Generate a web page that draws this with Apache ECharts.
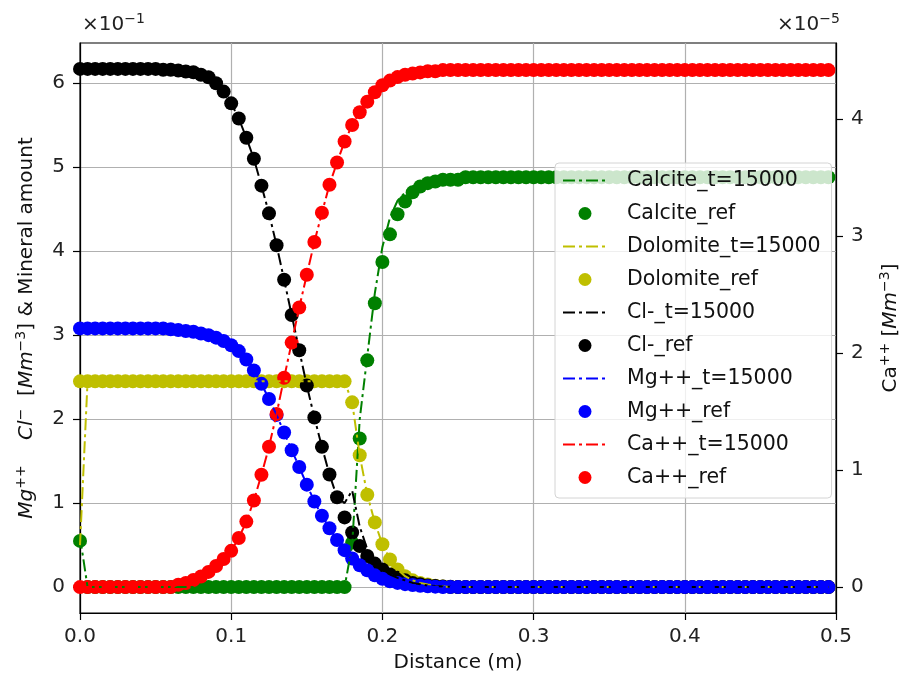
<!DOCTYPE html>
<html>
<head>
<meta charset="utf-8">
<script src="https://cdn.jsdelivr.net/npm/echarts@6/dist/echarts.min.js"></script>
<style>
html,body{margin:0;padding:0;background:#fff;}
#chart{width:909px;height:679px;}
</style>
</head>
<body>
<div id="chart"></div>
<script>
// Distance (m)
const distance = [
 0.000,0.005,0.010,0.015,0.020,0.025,0.030,0.035,0.040,0.045,
 0.050,0.055,0.060,0.065,0.070,0.075,0.080,0.085,0.090,0.095,
 0.100,0.105,0.110,0.115,0.120,0.125,0.130,0.135,0.140,0.145,
 0.150,0.155,0.160,0.165,0.170,0.175,0.180,0.185,0.190,0.195,
 0.200,0.205,0.210,0.215,0.220,0.225,0.230,0.235,0.240,0.245,
 0.250,0.255,0.260,0.265,0.270,0.275,0.280,0.285,0.290,0.295,
 0.300,0.305,0.310,0.315,0.320,0.325,0.330,0.335,0.340,0.345,
 0.350,0.355,0.360,0.365,0.370,0.375,0.380,0.385,0.390,0.395,
 0.400,0.405,0.410,0.415,0.420,0.425,0.430,0.435,0.440,0.445,
 0.450,0.455,0.460,0.465,0.470,0.475,0.480,0.485,0.490,0.495];

// Left axis values (x10^-1)
const calciteModel = [
 0.60,0,0,0,0,0,0,0,0,0,
 0,0,0,0,0,0,0,0,0,0,
 0,0,0,0,0,0,0,0,0,0,
 0,0,0,0,0,0,0.50,2.00,2.75,3.50,
 4.05,4.40,4.60,4.70,4.77,4.81,4.83,4.85,4.85,4.85,
 4.86,4.88,4.88,4.88,4.88,4.88,4.88,4.88,4.88,4.88,
 4.88,4.88,4.88,4.88,4.88,4.88,4.88,4.88,4.88,4.88,
 4.88,4.88,4.88,4.88,4.88,4.88,4.88,4.88,4.88,4.88,
 4.88,4.88,4.88,4.88,4.88,4.88,4.88,4.88,4.88,4.88,
 4.88,4.88,4.88,4.88,4.88,4.88,4.88,4.88,4.88,4.88];
const calciteRef = [
 0.55,0,0,0,0,0,0,0,0,0,
 0,0,0,0,0,0,0,0,0,0,
 0,0,0,0,0,0,0,0,0,0,
 0,0,0,0,0,0,0.53,1.77,2.70,3.38,
 3.87,4.20,4.44,4.59,4.70,4.77,4.81,4.83,4.85,4.85,
 4.85,4.88,4.88,4.88,4.88,4.88,4.88,4.88,4.88,4.88,
 4.88,4.88,4.88,4.88,4.88,4.88,4.88,4.88,4.88,4.88,
 4.88,4.88,4.88,4.88,4.88,4.88,4.88,4.88,4.88,4.88,
 4.88,4.88,4.88,4.88,4.88,4.88,4.88,4.88,4.88,4.88,
 4.88,4.88,4.88,4.88,4.88,4.88,4.88,4.88,4.88,4.88];
const dolomiteModel = [
 0.50,2.45,2.45,2.45,2.45,2.45,2.45,2.45,2.45,2.45,
 2.45,2.45,2.45,2.45,2.45,2.45,2.45,2.45,2.45,2.45,
 2.45,2.45,2.45,2.45,2.45,2.45,2.45,2.45,2.45,2.45,
 2.45,2.45,2.45,2.45,2.45,2.45,2.20,1.57,1.10,0.77,
 0.51,0.33,0.21,0.13,0.08,0.05,0.03,0.015,0.008,0,
 0,0,0,0,0,0,0,0,0,0,
 0,0,0,0,0,0,0,0,0,0,
 0,0,0,0,0,0,0,0,0,0,
 0,0,0,0,0,0,0,0,0,0,
 0,0,0,0,0,0,0,0,0,0];
const dolomiteRef = [
 2.45,2.45,2.45,2.45,2.45,2.45,2.45,2.45,2.45,2.45,
 2.45,2.45,2.45,2.45,2.45,2.45,2.45,2.45,2.45,2.45,
 2.45,2.45,2.45,2.45,2.45,2.45,2.45,2.45,2.45,2.45,
 2.45,2.45,2.45,2.45,2.45,2.45,2.20,1.57,1.10,0.77,
 0.51,0.33,0.21,0.13,0.08,0.05,0.03,0.015,0.008,0,
 0,0,0,0,0,0,0,0,0,0,
 0,0,0,0,0,0,0,0,0,0,
 0,0,0,0,0,0,0,0,0,0,
 0,0,0,0,0,0,0,0,0,0,
 0,0,0,0,0,0,0,0,0,0];
const clModel = [
 6.17,6.17,6.17,6.17,6.17,6.17,6.17,6.17,6.17,6.17,
 6.17,6.16,6.16,6.15,6.14,6.13,6.10,6.07,6.00,5.90,
 5.76,5.58,5.35,5.10,4.78,4.45,4.07,3.66,3.24,2.82,
 2.40,2.02,1.67,1.34,1.07,1.00,1.15,0.72,0.45,0.30,
 0.21,0.15,0.11,0.08,0.05,0.035,0.02,0.013,0.008,0.004,
 0,0,0,0,0,0,0,0,0,0,
 0,0,0,0,0,0,0,0,0,0,
 0,0,0,0,0,0,0,0,0,0,
 0,0,0,0,0,0,0,0,0,0,
 0,0,0,0,0,0,0,0,0,0];
const clRef = [
 6.17,6.17,6.17,6.17,6.17,6.17,6.17,6.17,6.17,6.17,
 6.17,6.16,6.16,6.15,6.14,6.13,6.10,6.07,6.00,5.90,
 5.76,5.58,5.35,5.10,4.78,4.45,4.07,3.66,3.24,2.82,
 2.40,2.02,1.67,1.34,1.07,0.83,0.65,0.49,0.37,0.28,
 0.21,0.15,0.11,0.08,0.05,0.035,0.02,0.013,0.008,0.004,
 0,0,0,0,0,0,0,0,0,0,
 0,0,0,0,0,0,0,0,0,0,
 0,0,0,0,0,0,0,0,0,0,
 0,0,0,0,0,0,0,0,0,0,
 0,0,0,0,0,0,0,0,0,0];
const mgModel = [
 3.08,3.08,3.08,3.08,3.08,3.08,3.08,3.08,3.08,3.08,
 3.08,3.08,3.07,3.06,3.05,3.04,3.02,3.00,2.97,2.93,
 2.88,2.81,2.71,2.58,2.42,2.24,2.05,1.84,1.63,1.43,
 1.22,1.02,0.85,0.70,0.56,0.44,0.34,0.26,0.20,0.14,
 0.10,0.07,0.05,0.035,0.025,0.015,0.01,0.005,0,0,
 0,0,0,0,0,0,0,0,0,0,
 0,0,0,0,0,0,0,0,0,0,
 0,0,0,0,0,0,0,0,0,0,
 0,0,0,0,0,0,0,0,0,0,
 0,0,0,0,0,0,0,0,0,0];
const mgRef = [
 3.08,3.08,3.08,3.08,3.08,3.08,3.08,3.08,3.08,3.08,
 3.08,3.08,3.07,3.06,3.05,3.04,3.02,3.00,2.97,2.93,
 2.88,2.81,2.71,2.58,2.42,2.24,2.05,1.84,1.63,1.43,
 1.22,1.02,0.85,0.70,0.56,0.44,0.34,0.26,0.20,0.14,
 0.10,0.07,0.05,0.035,0.025,0.015,0.01,0.005,0,0,
 0,0,0,0,0,0,0,0,0,0,
 0,0,0,0,0,0,0,0,0,0,
 0,0,0,0,0,0,0,0,0,0,
 0,0,0,0,0,0,0,0,0,0,
 0,0,0,0,0,0,0,0,0,0];
// Right axis values (x10^-5)
const caModel = [
 0,0,0,0,0,0,0,0,0,0,
 0,0,0,0.02,0.035,0.06,0.09,0.13,0.18,0.24,
 0.31,0.42,0.56,0.74,0.96,1.20,1.48,1.79,2.09,2.39,
 2.67,2.95,3.20,3.44,3.63,3.81,3.95,4.06,4.15,4.23,
 4.29,4.33,4.36,4.38,4.39,4.40,4.41,4.41,4.42,4.42,
 4.42,4.42,4.42,4.42,4.42,4.42,4.42,4.42,4.42,4.42,
 4.42,4.42,4.42,4.42,4.42,4.42,4.42,4.42,4.42,4.42,
 4.42,4.42,4.42,4.42,4.42,4.42,4.42,4.42,4.42,4.42,
 4.42,4.42,4.42,4.42,4.42,4.42,4.42,4.42,4.42,4.42,
 4.42,4.42,4.42,4.42,4.42,4.42,4.42,4.42,4.42,4.42];
const caRef = [
 0,0,0,0,0,0,0,0,0,0,
 0,0,0,0.02,0.035,0.06,0.09,0.13,0.18,0.24,
 0.31,0.42,0.56,0.74,0.96,1.20,1.48,1.79,2.09,2.39,
 2.67,2.95,3.20,3.44,3.63,3.81,3.95,4.06,4.15,4.23,
 4.29,4.33,4.36,4.38,4.39,4.40,4.41,4.41,4.42,4.42,
 4.42,4.42,4.42,4.42,4.42,4.42,4.42,4.42,4.42,4.42,
 4.42,4.42,4.42,4.42,4.42,4.42,4.42,4.42,4.42,4.42,
 4.42,4.42,4.42,4.42,4.42,4.42,4.42,4.42,4.42,4.42,
 4.42,4.42,4.42,4.42,4.42,4.42,4.42,4.42,4.42,4.42,
 4.42,4.42,4.42,4.42,4.42,4.42,4.42,4.42,4.42,4.42];

const xTicks = [0, 0.1, 0.2, 0.3, 0.4, 0.5];
const leftTicks = [0, 1, 2, 3, 4, 5, 6];
const rightTicks = [0, 1, 2, 3, 4];

const FONT = 'DejaVu Sans';
const dashDot = [12, 4, 3, 4];

function pairs(vals) { return distance.map((x, i) => [x, vals[i]]); }
function lineSeries(name, vals, color, yAxisIndex) {
  return {
    name, type: 'line', yAxisIndex, data: pairs(vals), symbol: 'none', showSymbol: false,
    lineStyle: { color, width: 2, type: dashDot }, itemStyle: { color },
    clip: true, animation: false
  };
}
function dotSeries(name, vals, color, yAxisIndex) {
  return {
    name, type: 'scatter', yAxisIndex, data: pairs(vals), symbol: 'circle', symbolSize: 14,
    itemStyle: { color, opacity: 1 }, clip: true, animation: false
  };
}

const C = { calcite: '#008000', dolomite: '#bfbf00', cl: '#000000', mg: '#0000ff', ca: '#ff0000' };

const series = [
  lineSeries('Calcite_t=15000', calciteModel, C.calcite, 0),
  dotSeries('Calcite_ref', calciteRef, C.calcite, 0),
  lineSeries('Dolomite_t=15000', dolomiteModel, C.dolomite, 0),
  dotSeries('Dolomite_ref', dolomiteRef, C.dolomite, 0),
  lineSeries('Cl-_t=15000', clModel, C.cl, 0),
  dotSeries('Cl-_ref', clRef, C.cl, 0),
  lineSeries('Mg++_t=15000', mgModel, C.mg, 0),
  dotSeries('Mg++_ref', mgRef, C.mg, 0),
  lineSeries('Ca++_t=15000', caModel, C.ca, 1),
  dotSeries('Ca++_ref', caRef, C.ca, 1)
];

const legendData = series.map(s => s.type === 'line'
  ? { name: s.name, itemStyle: { opacity: 0 } }
  : { name: s.name });

const supRich = {
  i: { fontFamily: FONT, fontStyle: 'italic', fontSize: 20, color: '#111' },
  n: { fontFamily: FONT, fontSize: 20, color: '#111' },
  s: { fontFamily: FONT, fontStyle: 'italic', fontSize: 14, color: '#111', verticalAlign: 'top', lineHeight: 26 },
  u: { fontFamily: FONT, fontSize: 14, color: '#111', verticalAlign: 'top', lineHeight: 26 }
};

const chart = echarts.init(document.getElementById('chart'), null, { renderer: 'canvas' });
chart.setOption({
  animation: false,
  backgroundColor: '#ffffff',
  grid: { left: 80, right: 64, top: 43, bottom: 66, show: true, borderColor: '#000', borderWidth: 1.2, backgroundColor: 'transparent' },
  legend: {
    data: legendData,
    orient: 'vertical', left: 555, top: 163,
    itemWidth: 44, itemHeight: 13, itemGap: 12,
    padding: [7, 11, 10, 7],
    backgroundColor: 'rgba(255,255,255,0.8)', borderColor: '#d4d4d4', borderWidth: 1, borderRadius: 4,
    textStyle: { fontFamily: FONT, fontSize: 20.5, color: '#111', padding: [0, 0, 0, 15] },
    selectedMode: false
  },
  xAxis: {
    type: 'value', min: 0, max: 0.5, interval: 0.1,
    name: 'Distance (m)', nameLocation: 'middle', nameGap: 40,
    nameTextStyle: { fontFamily: FONT, fontSize: 20, color: '#111' },
    axisLine: { show: true, onZero: false, lineStyle: { color: '#000', width: 1.2 } },
    axisTick: { show: true, length: 7, customValues: xTicks, lineStyle: { color: '#000', width: 1.2 } },
    axisLabel: { customValues: xTicks, formatter: v => v.toFixed(1), margin: 14, fontFamily: FONT, fontSize: 20, color: '#222' },
    splitLine: { show: true, lineStyle: { color: '#b0b0b0', width: 1.2 } }
  },
  yAxis: [
    {
      type: 'value', position: 'left', min: -0.3085, max: 6.4785, minInterval: 1, maxInterval: 1, splitNumber: 7,
      name: '{i|Mg}{s|++}    {i|Cl}{u|−}  {n|[}{i|Mm}{u|−3}{n|] & Mineral amount}',
      nameLocation: 'middle', nameRotate: 90, nameGap: 40,
      nameTextStyle: { fontFamily: FONT, fontSize: 20, color: '#111', rich: supRich },
      axisLine: { show: true, onZero: false, lineStyle: { color: '#000', width: 1.2 } },
      axisTick: { show: true, length: 7, customValues: leftTicks, lineStyle: { color: '#000', width: 1.2 } },
      axisLabel: { customValues: leftTicks, formatter: v => String(Math.round(v)), margin: 15, fontFamily: FONT, fontSize: 20, color: '#222' },
      splitLine: { show: true, lineStyle: { color: '#b0b0b0', width: 1.2 } }
    },
    {
      type: 'value', position: 'right', min: -0.2215, max: 4.6515, minInterval: 1, maxInterval: 1, splitNumber: 5,
      name: '{n|Ca}{u|++} {n|[}{i|Mm}{u|−3}{n|]}',
      nameLocation: 'middle', nameRotate: 90, nameGap: 42,
      nameTextStyle: { fontFamily: FONT, fontSize: 20, color: '#111', rich: supRich },
      axisLine: { show: true, onZero: false, lineStyle: { color: '#000', width: 1.2 } },
      axisTick: { show: true, length: 7, customValues: rightTicks, lineStyle: { color: '#000', width: 1.2 } },
      axisLabel: { customValues: rightTicks, formatter: v => String(Math.round(v)), margin: 15, fontFamily: FONT, fontSize: 20, color: '#222' },
      splitLine: { show: false }
    }
  ],
  graphic: [
    { type: 'text', left: 82, top: 12, style: { text: '{a|×10}{b|−1}', rich: { a: { fontFamily: FONT, fontSize: 20, fill: '#222', lineHeight: 26 }, b: { fontFamily: FONT, fontSize: 14, fill: '#222', verticalAlign: 'top', lineHeight: 26 } } } },
    { type: 'text', left: 777, top: 12, style: { text: '{a|×10}{b|−5}', rich: { a: { fontFamily: FONT, fontSize: 20, fill: '#222', lineHeight: 26 }, b: { fontFamily: FONT, fontSize: 14, fill: '#222', verticalAlign: 'top', lineHeight: 26 } } } }
  ],
  series
});
</script>
</body>
</html>
